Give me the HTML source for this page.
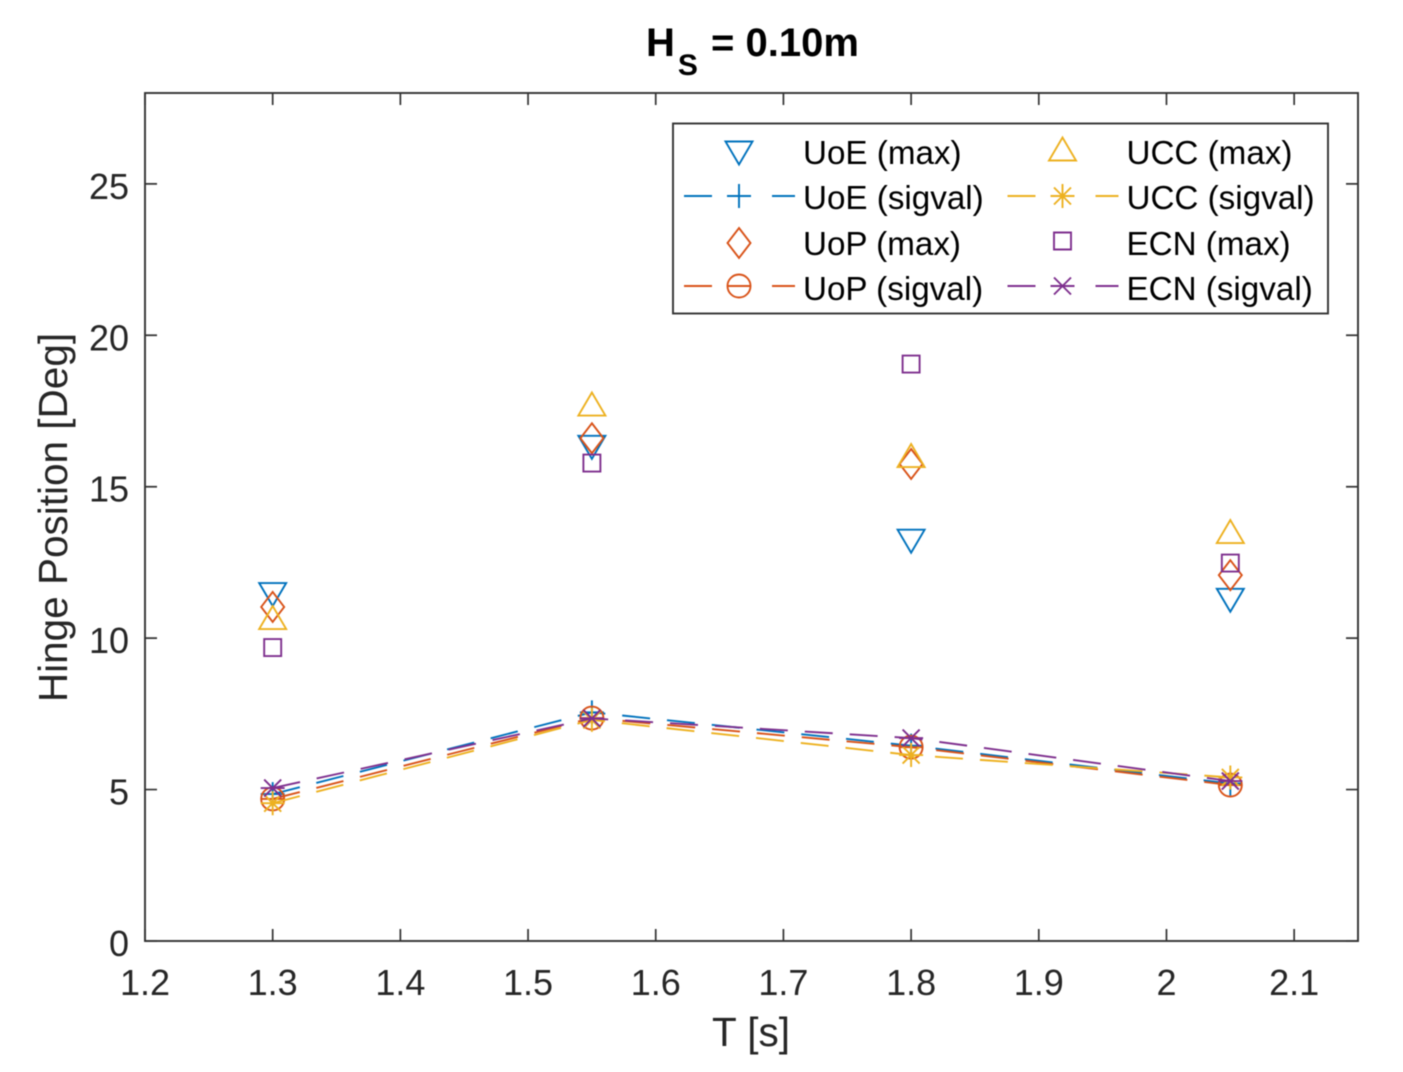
<!DOCTYPE html>
<html lang="en">
<head>
<meta charset="utf-8">
<title>Hinge Position vs T</title>
<style>
html,body{margin:0;padding:0;background:#fff;width:1403px;height:1072px;overflow:hidden}
svg{display:block;filter:blur(0.4px)}
text{font-family:"Liberation Sans",Arial,sans-serif;fill:#262626}
</style>
</head>
<body>
<svg id="chart" xmlns="http://www.w3.org/2000/svg" width="1403" height="1072" viewBox="0 0 1403 1072">
  <rect width="1403" height="1072" fill="#fff"/>
  <text x="646" y="56" font-size="40" font-weight="bold" style="fill:#000">H<tspan font-size="30" dy="19" dx="3">S</tspan><tspan dy="-19" dx="2"> = 0.10m</tspan></text>
  <rect x="145" y="93" width="1213" height="848" fill="#fff"/>
  <g id="ticks"></g>
  <g id="series"></g>
  <rect x="145" y="93" width="1213" height="848" fill="none" stroke="#333" stroke-width="1.9"/>
  <text x="751" y="1046" font-size="40.500" text-anchor="middle">T [s]</text>
  <text x="0" y="0" font-size="40.500" text-anchor="middle" transform="translate(67 517.500) rotate(-90)">Hinge Position [Deg]</text>
  <g>
    <rect x="673" y="123.500" width="655" height="190" fill="#fff" stroke="#333" stroke-width="1.9"/>
    <g id="legend-items"></g>
  </g>
</svg>
<script>
const periods = [1.3, 1.55, 1.8, 2.05];
const uoeMax = [11.44, 16.3, 13.2, 11.25];
const uoeSig = [4.85, 7.55, 6.45, 5.2];
const uopMax = [11.03, 16.6, 15.75, 12.08];
const uopSig = [4.69, 7.36, 6.4, 5.15];
const uccMax = [10.68, 17.73, 16.03, 13.52];
const uccSig = [4.55, 7.3, 6.14, 5.4];
const ecnMax = [9.69, 15.78, 19.05, 12.48];
const ecnSig = [5.05, 7.35, 6.7, 5.28];
const xTicks = [1.2, 1.3, 1.4, 1.5, 1.6, 1.7, 1.8, 1.9, 2, 2.1];
const yTicks = [0, 5, 10, 15, 20, 25];
const xTickLabels = ['1.2', '1.3', '1.4', '1.5', '1.6', '1.7', '1.8', '1.9', '2', '2.1'];
const yTickLabels = ['0', '5', '10', '15', '20', '25'];
const seriesNames = ['UoE (max)', 'UoE (sigval)', 'UoP (max)', 'UoP (sigval)', 'UCC (max)', 'UCC (sigval)', 'ECN (max)', 'ECN (sigval)'];

const NS = 'http://www.w3.org/2000/svg';
const X0 = 145, X1 = 1358, Y0 = 941, Y1 = 93;
const XMIN = 1.2, XMAX = 2.15, YMIN = 0, YMAX = 28;
function xScale(v) { return X0 + (v - XMIN) / (XMAX - XMIN) * (X1 - X0); }
function yScale(v) { return Y0 - (v - YMIN) / (YMAX - YMIN) * (Y0 - Y1); }

function markerPath(kind, x, y) {
  const f = n => n.toFixed(2);
  const M = (a, b) => 'M' + f(x + a) + ' ' + f(y + b);
  const L = (a, b) => 'L' + f(x + a) + ' ' + f(y + b);
  if (kind === 'down') return M(-13.5, -11.5) + L(13.5, -11.5) + L(0, 11.5) + 'Z';
  if (kind === 'up') return M(-13.5, 11.5) + L(13.5, 11.5) + L(0, -11.5) + 'Z';
  if (kind === 'diamond') return M(0, -15) + L(11.5, 0) + L(0, 15) + L(-11.5, 0) + 'Z';
  if (kind === 'square') return M(-8.5, -8.5) + L(8.5, -8.5) + L(8.5, 8.5) + L(-8.5, 8.5) + 'Z';
  if (kind === 'plus') return M(-12, 0) + L(12, 0) + M(0, -12) + L(0, 12);
  if (kind === 'circle') return M(-11.5, 0) + 'A11.5 11.5 0 1 0 ' + f(x + 11.5) + ' ' + f(y) + 'A11.5 11.5 0 1 0 ' + f(x - 11.5) + ' ' + f(y) + 'Z' + M(-11.5, 0) + L(11.5, 0);
  if (kind === 'star') return M(-12, 0) + L(12, 0) + M(0, -12) + L(0, 12) + M(-8.5, -8.5) + L(8.5, 8.5) + M(-8.5, 8.5) + L(8.5, -8.5);
  return M(-8.5, -8.5) + L(8.5, 8.5) + M(-8.5, 8.5) + L(8.5, -8.5) + M(-12, 0) + L(12, 0);
}

const ticksG = document.getElementById('ticks');
const seriesG = document.getElementById('series');
const legendG = document.getElementById('legend-items');

xTicks.forEach(function (t, i) {
  const x = xScale(t);
  const tickB = document.createElementNS(NS, 'path');
  
  
  tickB.setAttribute('d', 'M' + x + ' ' + Y0 + 'V' + (Y0 - 12) + 'M' + x + ' ' + Y1 + 'V' + (Y1 + 12));
  tickB.setAttribute('stroke', '#333');
  tickB.setAttribute('stroke-width', '1.7');
  ticksG.appendChild(tickB);
  const label = document.createElementNS(NS, 'text');
  
  
  label.setAttribute('x', x);
  label.setAttribute('y', 995);
  label.setAttribute('font-size', '36');
  label.setAttribute('text-anchor', 'middle');
  label.textContent = xTickLabels[i];
  ticksG.appendChild(label);
});

yTicks.forEach(function (t, i) {
  const y = yScale(t);
  const tickL = document.createElementNS(NS, 'path');
  
  
  tickL.setAttribute('d', 'M' + X0 + ' ' + y + 'H' + (X0 + 12) + 'M' + X1 + ' ' + y + 'H' + (X1 - 12));
  tickL.setAttribute('stroke', '#333');
  tickL.setAttribute('stroke-width', '1.7');
  ticksG.appendChild(tickL);
  const label = document.createElementNS(NS, 'text');
  
  
  label.setAttribute('x', 129);
  label.setAttribute('y', y + 15);
  label.setAttribute('font-size', '36');
  label.setAttribute('text-anchor', 'end');
  label.textContent = yTickLabels[i];
  ticksG.appendChild(label);
});

function drawSeries(values, kind, color, dashed) {
  if (dashed) {
    const line = document.createElementNS(NS, 'polyline');
    
    
    line.setAttribute('points', values.map(function (v, i) { return xScale(periods[i]) + ',' + yScale(v); }).join(' '));
    line.setAttribute('fill', 'none');
    line.setAttribute('stroke', color);
    line.setAttribute('stroke-width', '1.9');
    line.setAttribute('stroke-dasharray', '28 17');
    seriesG.appendChild(line);
  }
  values.forEach(function (v, i) {
    const mark = document.createElementNS(NS, 'path');
    
    
    mark.setAttribute('d', markerPath(kind, xScale(periods[i]), yScale(v)));
    mark.setAttribute('fill', 'none');
    mark.setAttribute('stroke', color);
    mark.setAttribute('stroke-width', '1.9');
    seriesG.appendChild(mark);
  });
}

drawSeries(uoeMax, 'down', '#0072BD', false);
drawSeries(uoeSig, 'plus', '#0072BD', true);
drawSeries(uopMax, 'diamond', '#D95319', false);
drawSeries(uopSig, 'circle', '#D95319', true);
drawSeries(uccMax, 'up', '#EDB120', false);
drawSeries(uccSig, 'star', '#EDB120', true);
drawSeries(ecnMax, 'square', '#7E2F8E', false);
drawSeries(ecnSig, 'cross', '#7E2F8E', true);

function drawLegendEntry(index, kind, color, dashed) {
  const col = Math.floor(index / 4);
  const row = index % 4;
  const offset = col * 323.5;
  const y = 153 + row * 45;
  const my = (kind === 'up') ? y - 4 : (kind === 'square' ? y - 2 : y + (row % 2 ? -1 : 0));
  if (dashed) {
    const line = document.createElementNS(NS, 'path');
    
    
    line.setAttribute('d', 'M' + (684 + offset) + ' ' + (y - 2) + 'h28M' + (729 + offset) + ' ' + (y - 2) + 'h22M' + (772 + offset) + ' ' + (y - 2) + 'h23');
    line.setAttribute('stroke', color);
    line.setAttribute('stroke-width', '1.9');
    legendG.appendChild(line);
  }
  const mark = document.createElementNS(NS, 'path');
  
  
  mark.setAttribute('d', markerPath(kind, 739 + offset, dashed ? y - 2 : my));
  mark.setAttribute('fill', 'none');
  mark.setAttribute('stroke', color);
  mark.setAttribute('stroke-width', '1.9');
  legendG.appendChild(mark);
  const label = document.createElementNS(NS, 'text');
  
  
  label.setAttribute('x', 803 + offset);
  label.setAttribute('y', y + 11 + (row >= 2 ? 1 : 0));
  label.setAttribute('font-size', '33.200');
  label.style.fill = '#000';
  label.textContent = seriesNames[index];
  legendG.appendChild(label);
}

drawLegendEntry(0, 'down', '#0072BD', false);
drawLegendEntry(1, 'plus', '#0072BD', true);
drawLegendEntry(2, 'diamond', '#D95319', false);
drawLegendEntry(3, 'circle', '#D95319', true);
drawLegendEntry(4, 'up', '#EDB120', false);
drawLegendEntry(5, 'star', '#EDB120', true);
drawLegendEntry(6, 'square', '#7E2F8E', false);
drawLegendEntry(7, 'cross', '#7E2F8E', true);
</script>
</body>
</html>
